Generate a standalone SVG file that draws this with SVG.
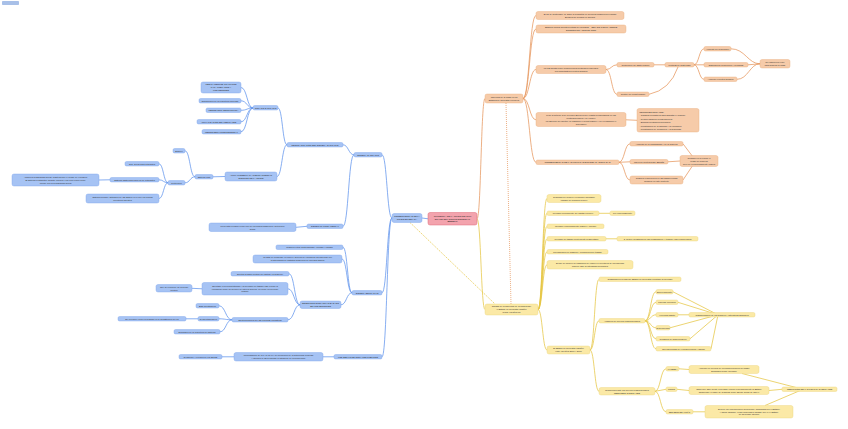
<svg xmlns="http://www.w3.org/2000/svg" width="848" height="429" viewBox="0 0 848 429">
<style>
text{font-family:"Liberation Sans",Arial,sans-serif;font-size:2.2px;fill:#2b2b2b;text-anchor:middle}
.l{text-anchor:start}
.nb{fill:#a6c3f4;stroke:#78a2ea;stroke-width:0.4}
.nr{fill:#f3a3ad;stroke:#df6a78;stroke-width:0.5}
.no{fill:#f6cba9;stroke:#e9ab7c;stroke-width:0.4}
.ny{fill:#fbe9a6;stroke:#ecd37c;stroke-width:0.4}
.cb{fill:none;stroke:#5f93ec;stroke-width:0.75}
.co{fill:none;stroke:#e5965c;stroke-width:0.75}
.cy{fill:none;stroke:#e6c543;stroke-width:0.75}
</style>
<rect width="848" height="429" fill="#ffffff"/>
<rect x="2" y="1" width="17" height="4" rx="0.8" fill="#a8c0e8"/>
<g id="connectors">
<path class="cb" d="M241 87.5C247 87.5 247 108 253 108M241 100.8C247 100.8 247 108 253 108M241 110.3C247 110.3 247 108 253 108M241 121.8C247 121.8 247 108 253 108M241 131.8C247 131.8 247 108 253 108"/>
<path class="cb" d="M278 108C282.5 108 282.5 144.8 287 144.8M277 176.5C282 176.5 282 144.8 287 144.8M343 144.8C348.5 144.8 348.5 154.8 354 154.8M343 226.3C348.5 226.3 348.5 154.8 354 154.8"/>
<path class="cb" d="M382 154.8C387 154.8 387 218 392 218M382 292.8C387 292.8 387 218 392 218M382 356.8C387 356.8 387 218 392 218M422 218L428 218.8"/>
<path class="cb" d="M213 176.8L225 176.5M185 150.8C190 150.8 190 176.8 195 176.8M185 182.8C190 182.8 190 176.8 195 176.8M159 163.8C163.5 163.8 163.5 182.8 168 182.8M159 179.8C163.5 179.8 163.5 182.8 168 182.8M159 198.5C163.5 198.5 163.5 182.8 168 182.8M99 180L110 179.8M296 227.3L307 226.3"/>
<path class="cb" d="M343 247.3C347.5 247.3 347.5 292.8 352 292.8M342 259C347 259 347 292.8 352 292.8M341 304.8C346.5 304.8 346.5 292.8 352 292.8M289 273.8C294.5 273.8 294.5 304.8 300 304.8M288 288.8C294 288.8 294 304.8 300 304.8M288 319.8C294 319.8 294 304.8 300 304.8M192 288.3L202 288.8"/>
<path class="cb" d="M219 305.8C225.5 305.8 225.5 319.8 232 319.8M219 318.8C225.5 318.8 225.5 319.8 232 319.8M220 331.8C226 331.8 226 319.8 232 319.8M186 318.8L198 318.8M323 356.8L334 356.8M222 356.8L234 356.8"/>
<path class="co" d="M477 218.8C481 218.8 481 98.5 485 98.5"/>
<path class="co" d="M523 98.5C529.5 98.5 529.5 15.5 536 15.5M523 98.5C529.5 98.5 529.5 29 536 29M523 98.5C529.5 98.5 529.5 69.5 536 69.5M523 98.5C529.5 98.5 529.5 119.8 536 119.8M523 98.5C529.5 98.5 529.5 162.3 536 162.3"/>
<path class="co" d="M606 69.5C611.5 69.5 611.5 64.8 617 64.8M606 69.5C611.5 69.5 611.5 94.3 617 94.3M654 64.8L665 64.8M649 94.3Q670 90 678 67"/>
<path class="co" d="M694 64.8C699 64.8 699 48.8 704 48.8M694 64.8L704 64.8M694 64.8C699 64.8 699 79.3 704 79.3M731 48.8C745 48.8 748 63.8 760 63.8M748 64.8L760 63.8M737 79.3C748 79.3 750 63.8 760 63.8"/>
<path class="co" d="M626 119.8L637 120.3M619 162.3C624.5 162.3 624.5 143.8 630 143.8M619 162.3L630 161.8M619 162.3C624.5 162.3 624.5 180 630 180M683 143.8L693 157M668 161.8L680 161M683 180L693 165"/>
<path class="co" d="M506 103L511 304" stroke-dasharray="1 1"/>
<path class="cy" d="M410 222.5L495 304" stroke-dasharray="1.5 1"/>
<path class="cy" d="M477 218.8C481 218.8 481 309.5 485 309.5"/>
<path class="cy" d="M538 309.5C542.5 309.5 542.5 198.5 547 198.5M538 309.5C542.5 309.5 542.5 213.3 547 213.3M538 309.5C542.5 309.5 542.5 226.3 547 226.3M538 309.5C542.5 309.5 542.5 238.8 547 238.8M538 309.5C542.5 309.5 542.5 251.8 547 251.8M538 309.5C542.5 309.5 542.5 264.8 547 264.8M538 309.5C542.5 309.5 542.5 350 547 350"/>
<path class="cy" d="M599 213.3L610 213.3M606 238.8L617 238.8M590 350C594.5 350 594.5 279.3 599 279.3M590 350C594.5 350 594.5 320.8 599 320.8M590 350C594.5 350 594.5 391.3 599 391.3"/>
<path class="cy" d="M645 320.8C650.5 320.8 650.5 291.8 656 291.8M645 320.8C650.5 320.8 650.5 302.3 656 302.3M645 320.8C650.5 320.8 650.5 314.8 656 314.8M645 320.8C650.5 320.8 650.5 327.8 656 327.8M645 320.8C650.5 320.8 650.5 338.8 656 338.8M645 320.8C650.5 320.8 650.5 348.8 656 348.8"/>
<path class="cy" d="M673 291.8L718 314.8M678 302.3L718 314.8M678 314.8L689 314.8M670 327.8L718 314.8M690 338.8L718 314.8M711 348.8L718 314.8"/>
<path class="cy" d="M655 391.3C660.5 391.3 660.5 368.8 666 368.8M655 391.3L666 389.3M655 391.3C660.5 391.3 660.5 411.8 666 411.8M679 368.8L689 369.5M677 389.3L689 390.5M693 411.8L705 411.8M742 373.5L803 389.3M769 390.5L782 389.3M765 405.5L803 389.3"/>
</g>
<g id="n-b1"><rect class="nb" x="201" y="82" width="40" height="11" rx="2"/><text x="221" y="85.4">MEDICAMENTOS GRATUITOS<tspan x="221" dy="2.9">PARA JUBILADOS Y</tspan><tspan x="221" dy="2.9">LOS MENORES</tspan></text></g>
<g id="n-b2"><rect class="nb" x="199" y="98.5" width="42" height="4.5" rx="1.5"/><text x="220" y="101.55">Disminución de la cobertura universal</text></g>
<g id="n-b3"><rect class="nb" x="206" y="108" width="35" height="4.5" rx="1.5"/><text x="223.5" y="111.05">MENOS INFRAESTRUCTURA</text></g>
<g id="n-b4"><rect class="nb" x="197" y="119.5" width="44" height="4.5" rx="1.5"/><text x="219" y="122.55">PRIVATIZACIÓN DE HOSPITALES</text></g>
<g id="n-b5"><rect class="nb" x="202" y="129.5" width="39" height="4.5" rx="1.5"/><text x="221.5" y="132.55">MENOS SERVICIOS/PERSONAL</text></g>
<g id="n-b6"><rect class="nb" x="253" y="105.5" width="25" height="4.5" rx="1.5"/><text x="265.5" y="108.55">COPAGO SANITARIO</text></g>
<g id="n-reorg"><rect class="nb" x="287" y="142.5" width="56" height="4.5" rx="1.5"/><text x="315" y="145.55">REORGANIZACIÓN DEL SISTEMA SANITARIO</text></g>
<g id="n-sanitario"><rect class="nb" x="354" y="152.5" width="28" height="4.5" rx="1.5"/><text x="368" y="155.55">SISTEMA SANITARIO</text></g>
<g id="n-consecuencias"><rect class="nb" x="392" y="213.5" width="30" height="9" rx="2"/><text x="407" y="217.35">CONSECUENCIAS DE LA<tspan x="407" dy="2.9">CRISIS EN ESPAÑA</tspan></text></g>
<g id="n-centro"><rect class="nr" x="428" y="212.5" width="49" height="12.5" rx="2"/><text x="452.5" y="216.65">INCIDENCIA DE LA CRISIS DEL 2008<tspan x="452.5" dy="2.9">EN LOS ESTADOS DE BIENESTAR</tspan><tspan x="452.5" dy="2.9" font-weight="bold">MUNDIAL</tspan></text></g>
<g id="n-actuaciones"><rect class="nb" x="225" y="172" width="52" height="9" rx="2"/><text x="251" y="175.85">ACTUACIONES PARA CONTRARRESTAR<tspan x="251" dy="2.9">EFECTOS DE LA CRISIS</tspan></text></g>
<g id="n-dual"><rect class="nb" x="195" y="174.5" width="18" height="4.5" rx="1.5"/><text x="204" y="177.55">Sistema dual</text></g>
<g id="n-empleo"><rect class="nb" x="173" y="148.5" width="12" height="4.5" rx="1.5"/><text x="179" y="151.55">Empleo</text></g>
<g id="n-proteccion"><rect class="nb" x="168" y="180.5" width="17" height="4.5" rx="1.5"/><text x="176.5" y="183.55">Protección</text></g>
<g id="n-seg"><rect class="nb" x="125" y="161.5" width="34" height="4.5" rx="1.5"/><text x="142" y="164.55">Seg. social para cotizantes</text></g>
<g id="n-asist"><rect class="nb" x="110" y="177.5" width="49" height="4.5" rx="1.5"/><text x="134.5" y="180.55">Sistema asistencial para los no cotizantes</text></g>
<g id="n-amplia"><rect class="nb" x="12" y="174" width="87" height="12" rx="2"/><text x="55.5" y="177.9">Amplía la desigualdad social, manteniendo el riesgo de exclusión<tspan x="55.5" dy="2.9">El sistema contributivo durante los 80's y los 90's redujo como</tspan><tspan x="55.5" dy="2.9">ocurrió con la desigualdad social</tspan></text></g>
<g id="n-privado"><rect class="nb" x="86" y="194" width="73" height="9" rx="2"/><text x="122.5" y="197.85">Sistema privado: actuación de las ONG's en lo que los demás<tspan x="122.5" dy="2.9">colectivos carentes</tspan></text></g>
<g id="n-derecho"><rect class="nb" x="307" y="224" width="36" height="4.5" rx="1.5"/><text x="325" y="227.05">DERECHO FUNDAMENTAL</text></g>
<g id="n-pues"><rect class="nb" x="209" y="223" width="87" height="8.5" rx="2"/><text x="252.5" y="226.6">pues está recogido como uno de los pilares básicos de protección<tspan x="252.5" dy="2.9">social</tspan></text></g>
<g id="n-educativo"><rect class="nb" x="352" y="290.5" width="30" height="4.5" rx="1.5"/><text x="367" y="293.55">SISTEMA EDUCATIVO</text></g>
<g id="n-retos"><rect class="nb" x="276" y="245" width="67" height="4.5" rx="1.5"/><text x="309.5" y="248.05">Grandes retos: sostenibilidad, equidad y calidad</text></g>
<g id="n-consenso"><rect class="nb" x="253" y="255" width="89" height="8" rx="2"/><text x="297.5" y="258.35">La falta de consenso en una ley general de educación ha impedido por<tspan x="297.5" dy="2.9">la alternancia de distintos gobiernos de diversos signos</tspan></text></g>
<g id="n-deterioro"><rect class="nb" x="300" y="301" width="41" height="7.5" rx="2"/><text x="320.5" y="304.1">DETERIORO SUSTANTIVO BASADO<tspan x="320.5" dy="2.9">EN LOS RECORTES</tspan></text></g>
<g id="n-sujetos"><rect class="nb" x="231" y="271.5" width="58" height="4.5" rx="1.5"/><text x="260" y="274.55">Sujetos al signo político del partido en gobierno</text></g>
<g id="n-orientado"><rect class="nb" x="202" y="282.5" width="86" height="12.5" rx="2"/><text x="245" y="286.65">Orientado a la competitividad y al mercado de trabajo (LE) recoge la<tspan x="245" dy="2.9">educación como un servicio de interés general, no como un derecho</tspan><tspan x="245" dy="2.9">público</tspan></text></g>
<g id="n-reconoce"><rect class="nb" x="156" y="284.5" width="36" height="7.5" rx="2"/><text x="174" y="287.6">Que se reconoce un derecho<tspan x="174" dy="2.9">efectivo</tspan></text></g>
<g id="n-efectos"><rect class="nb" x="232" y="317.5" width="56" height="4.5" rx="1.5"/><text x="260" y="320.55">Efectos sufridos por las reformas educativas</text></g>
<g id="n-baja"><rect class="nb" x="196" y="303.5" width="23" height="4.5" rx="1.5"/><text x="207.5" y="306.55">Baja privatización</text></g>
<g id="n-descentral"><rect class="nb" x="198" y="316.5" width="21" height="4.5" rx="1.5"/><text x="208.5" y="319.55">Descentralización</text></g>
<g id="n-constitucion"><rect class="nb" x="118" y="316.5" width="68" height="4.5" rx="1.5"/><text x="152" y="319.55">No reconoce como necesidad en la Constitución del 78</text></g>
<g id="n-expansion"><rect class="nb" x="174" y="329.5" width="46" height="4.5" rx="1.5"/><text x="197" y="332.55">Expansión de la cobertura del sistema</text></g>
<g id="n-ssociales"><rect class="nb" x="334" y="354.5" width="48" height="4.5" rx="1.5"/><text x="358" y="357.55">LOS SERVICIOS SOCIALES PUBLICOS</text></g>
<g id="n-lapad"><rect class="nb" x="234" y="352.5" width="89" height="8.5" rx="2"/><text x="278.5" y="356.1">Promulgación de la LAPAD (ley de promoción de la autonomía personal<tspan x="278.5" dy="2.9">y atención a las personas en situación de dependencia)</tspan></text></g>
<g id="n-desarrollo"><rect class="nb" x="179" y="354.5" width="43" height="4.5" rx="1.5"/><text x="200.5" y="357.55">Desarrollo y reforma de los SS.SS</text></g>
<g id="n-o0"><rect class="no" x="485" y="94" width="38" height="9" rx="2"/><text x="504" y="97.85">Influencia de la crisis en los<tspan x="504" dy="2.9">Estados de bienestar europeos</tspan></text></g>
<g id="n-o1"><rect class="no" x="536" y="11.5" width="88" height="8" rx="2"/><text x="580" y="14.85">El 15 de septiembre de 2008 la compañía de servicios financieros Lehman<tspan x="580" dy="2.9">Brothers se declara en quiebra</tspan></text></g>
<g id="n-o2"><rect class="no" x="536" y="25" width="90" height="8" rx="2"/><text x="581" y="28.35">Estados Unidos adopta políticas keynesianas = ESTADO COMO AGENTE<tspan x="581" dy="2.9">ECONÓMICO Y EMPLEADOR</tspan></text></g>
<g id="n-o3"><rect class="no" x="536" y="65.5" width="70" height="8" rx="2"/><text x="571" y="68.85">La UE adopta como consecuencia políticas neoliberales<tspan x="571" dy="2.9">con importantes recortes sociales</tspan></text></g>
<g id="n-o4"><rect class="no" x="617" y="62.5" width="37" height="4.5" rx="1.5"/><text x="635.5" y="65.55">Contención del gasto público</text></g>
<g id="n-o5"><rect class="no" x="665" y="62.5" width="29" height="4.5" rx="1.5"/><text x="679.5" y="65.55">Políticas de austeridad</text></g>
<g id="n-o6"><rect class="no" x="704" y="46.5" width="27" height="4.5" rx="1.5"/><text x="717.5" y="49.55">Aumento del desempleo</text></g>
<g id="n-o7"><rect class="no" x="704" y="62.5" width="44" height="4.5" rx="1.5"/><text x="726" y="65.55">Disminución producción y demanda</text></g>
<g id="n-o8"><rect class="no" x="704" y="77" width="33" height="4.5" rx="1.5"/><text x="720.5" y="80.05">Aumento recortes sociales</text></g>
<g id="n-o9"><rect class="no" x="760" y="59.5" width="30" height="8.5" rx="2"/><text x="775" y="63.1">No obtuvieron éxito<tspan x="775" dy="2.9">para superar la crisis</tspan></text></g>
<g id="n-o10"><rect class="no" x="617" y="92" width="32" height="4.5" rx="1.5"/><text x="633" y="95.05">Control del déficit público</text></g>
<g id="n-o11"><rect class="no" x="536" y="112.5" width="90" height="14" rx="2"/><text x="581" y="115.95">Pese al artículo 3 de la Unión Europea que resalta la importancia de las<tspan x="581" dy="2.9">políticas sociales y de empleo</tspan><tspan x="581" dy="2.9">La UE pone su objetivo en disminuir el déficit público y no en disminuir el</tspan><tspan x="581" dy="2.9">desempleo</tspan></text></g>
<g id="n-o12"><rect class="no" x="637" y="108.5" width="62" height="23.5" rx="2"/><text class="l" x="639.5" y="112.5">RECORTES SOCIALES:<tspan x="639.5" dy="3.5">- Cambios normativos para abaratar el despido</tspan><tspan x="639.5" dy="3.5">- Reducir salarios (congelaciones)</tspan><tspan x="639.5" dy="3.5">- Eliminar prestaciones sociales</tspan><tspan x="639.5" dy="3.5">- Privatización de la sanidad y la educación</tspan><tspan x="639.5" dy="3.5">- Privatización de pensiones y la seguridad</tspan></text></g>
<g id="n-o13"><rect class="no" x="536" y="160" width="83" height="4.5" rx="1.5"/><text x="577.5" y="163.05">CONSECUENCIAS DE LAS POLÍTICAS EUROPEAS ADOPTADAS</text></g>
<g id="n-o14"><rect class="no" x="630" y="141.5" width="53" height="4.5" rx="1.5"/><text x="656.5" y="144.55">Aumento de la desigualdad y de la pobreza</text></g>
<g id="n-o15"><rect class="no" x="630" y="159.5" width="38" height="4.5" rx="1.5"/><text x="649" y="162.55">Mayores efectos sobre España</text></g>
<g id="n-o16"><rect class="no" x="630" y="176" width="53" height="8" rx="2"/><text x="656.5" y="179.35">Grandes reducciones en las transferencias<tspan x="656.5" dy="2.9">sociales en este contexto</tspan></text></g>
<g id="n-o17"><rect class="no" x="680" y="155.5" width="38" height="11" rx="2"/><text x="699" y="158.9">Contribuyen a reducir el<tspan x="699" dy="2.9">riesgo de pobreza</tspan><tspan x="699" dy="2.9">Pero no a los sumamente pobres</tspan></text></g>
<g id="n-y0"><rect class="ny" x="485" y="304" width="53" height="11" rx="2"/><text x="511.5" y="307.4">Causas de la influencia de la crisis sobre<tspan x="511.5" dy="2.9">el Estado de bienestar español</tspan><tspan x="511.5" dy="2.9">desde los años 80</tspan></text></g>
<g id="n-y1"><rect class="ny" x="547" y="194.5" width="54" height="8" rx="2"/><text x="574" y="197.85">Debilidad del modelo económico adoptado<tspan x="574" dy="2.9">(cambio de posición a nivel)</tspan></text></g>
<g id="n-y2"><rect class="ny" x="547" y="211" width="52" height="4.5" rx="1.5"/><text x="573" y="214.05">Mercado dependiente del capital europeo</text></g>
<g id="n-y3"><rect class="ny" x="610" y="211" width="25" height="4.5" rx="1.5"/><text x="622.5" y="214.05">por endeudamiento</text></g>
<g id="n-y4"><rect class="ny" x="547" y="224" width="57" height="4.5" rx="1.5"/><text x="575.5" y="227.05">Mercado endeudamiento público y privado</text></g>
<g id="n-y5"><rect class="ny" x="547" y="236.5" width="59" height="4.5" rx="1.5"/><text x="576.5" y="239.55">Mercado de trabajo fuertemente segmentado</text></g>
<g id="n-y6"><rect class="ny" x="617" y="236.5" width="81" height="4.5" rx="1.5"/><text x="657.5" y="239.55">2. sector: Construcción (sin cualificación) y turismo: mal remunerados</text></g>
<g id="n-y7"><rect class="ny" x="547" y="249.5" width="61" height="4.5" rx="1.5"/><text x="577.5" y="252.55">Precarización de salarios y condiciones de trabajo</text></g>
<g id="n-y8"><rect class="ny" x="547" y="260.5" width="86" height="8.5" rx="2"/><text x="590" y="264.1">El tipo de modelo de transición de empleo a colectivos de precariedad<tspan x="590" dy="2.9">para de bajo la intensidad productiva</tspan></text></g>
<g id="n-y9"><rect class="ny" x="547" y="346" width="43" height="8" rx="2"/><text x="568.5" y="349.35">El Estado de bienestar español<tspan x="568.5" dy="2.9">entre los años 2000 y 2010</tspan></text></g>
<g id="n-y10"><rect class="ny" x="599" y="277" width="82" height="4.5" rx="1.5"/><text x="640" y="280.05">Globalización neoliberal: Estado de bienestar orientado al mercado</text></g>
<g id="n-y11"><rect class="ny" x="599" y="318.5" width="46" height="4.5" rx="1.5"/><text x="622" y="321.55">Aparición de nuevos riesgos sociales</text></g>
<g id="n-s1"><rect class="ny" x="656" y="289.5" width="17" height="4.5" rx="1.5"/><text x="664.5" y="292.55">Envejecimiento</text></g>
<g id="n-s2"><rect class="ny" x="656" y="300" width="22" height="4.5" rx="1.5"/><text x="667" y="303.05">Parejas: divorcios</text></g>
<g id="n-s3"><rect class="ny" x="656" y="312.5" width="22" height="4.5" rx="1.5"/><text x="667" y="315.55">Violencia infantil</text></g>
<g id="n-s4"><rect class="ny" x="689" y="312.5" width="66" height="4.5" rx="1.5"/><text x="722" y="315.55">Transformación de los hogares y estructuras familiares</text></g>
<g id="n-s5"><rect class="ny" x="656" y="325.5" width="14" height="4.5" rx="1.5"/><text x="663" y="328.55">Dependencia</text></g>
<g id="n-s6"><rect class="ny" x="656" y="336.5" width="34" height="4.5" rx="1.5"/><text x="673" y="339.55">Cuidados de larga duración</text></g>
<g id="n-s7"><rect class="ny" x="656" y="346.5" width="55" height="4.5" rx="1.5"/><text x="683.5" y="349.55">Nuevas formas de exclusión social y laboral</text></g>
<g id="n-y13"><rect class="ny" x="599" y="387.5" width="56" height="7.5" rx="2"/><text x="627" y="390.6">Reacciones ante los nuevos riesgos sociales<tspan x="627" dy="2.9">RESPUESTAS SOCIALES</tspan></text></g>
<g id="n-y14"><rect class="ny" x="666" y="366.5" width="13" height="4.5" rx="1.5"/><text x="672.5" y="369.55">VIVIENDA</text></g>
<g id="n-y15"><rect class="ny" x="689" y="365.5" width="70" height="8" rx="2"/><text x="724" y="368.85">Aumento de precios de vivienda/reducción del gasto<tspan x="724" dy="2.9">Expansión sobre mercado</tspan></text></g>
<g id="n-y16"><rect class="ny" x="666" y="387" width="11" height="4.5" rx="1.5"/><text x="671.5" y="390.05">Familia</text></g>
<g id="n-y17"><rect class="ny" x="689" y="386.5" width="80" height="8" rx="2"/><text x="729" y="389.85">Dado que hace frente a la crisis, retorno correspondiente al Estado<tspan x="729" dy="2.9">asumiendo el papel de la familia como agente social de apoyo</tspan></text></g>
<g id="n-y18"><rect class="ny" x="666" y="409.5" width="27" height="4.5" rx="1.5"/><text x="679.5" y="412.55">3ER SECTOR (ong´s)</text></g>
<g id="n-y19"><rect class="ny" x="705" y="405.5" width="88" height="12.5" rx="2"/><text x="749" y="409.65">Deja de ser una acepción promovida y financiada por el Estado:<tspan x="749" dy="2.9">y ahora obligado, a las empresas a causas, que lo el Estado</tspan><tspan x="749" dy="2.9">no ha podido atender</tspan></text></g>
<g id="n-y20"><rect class="ny" x="782" y="387" width="55" height="4.5" rx="1.5"/><text x="809.5" y="390.05">REDUCCIÓN DE LAS POLÍTICAS SOCIALES</text></g>
</svg>
